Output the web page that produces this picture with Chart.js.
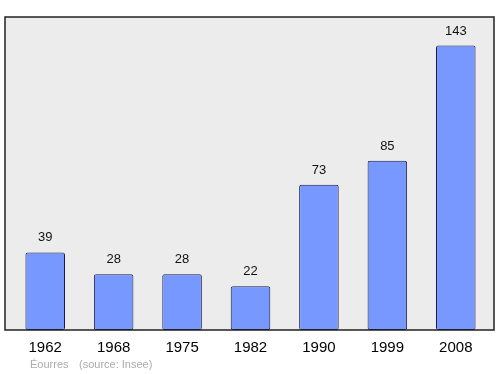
<!DOCTYPE html>
<html>
<head>
<meta charset="utf-8">
<script src="https://cdn.jsdelivr.net/npm/chart.js@4.4.0/dist/chart.umd.min.js"></script>
<style>
  html, body { margin: 0; padding: 0; background: #fff; }
  #wrap { width: 500px; height: 374px; }
</style>
</head>
<body>
<div id="wrap"><canvas id="myChart"></canvas></div>
<script>
let years = ["1962", "1968", "1975", "1982", "1990", "1999", "2008"];
let population = [39, 28, 28, 22, 73, 85, 143];
let placeName = "Éourres";
let sourceText = "(source: Insee)";

// frame sits a little outside the category area
let frameLeft = 6;
let frameRight = 4;

// gray plot background with a dark frame
let frameBox = {
  id: "frameBox",
  beforeDatasetsDraw(chart) {
    let a = chart.chartArea;
    let c = chart.ctx;
    c.save();
    c.fillStyle = "#ececec";
    c.fillRect(a.left - frameLeft, a.top, a.right - a.left + frameLeft + frameRight, a.bottom - a.top);
    c.restore();
  },
  afterDatasetsDraw(chart) {
    let a = chart.chartArea;
    let c = chart.ctx;
    c.save();
    c.strokeStyle = "#222";
    c.lineWidth = 1.5;
    c.strokeRect(a.left - frameLeft, a.top, a.right - a.left + frameLeft + frameRight, a.bottom - a.top);

    // value labels over the bars
    let meta = chart.getDatasetMeta(0);
    c.fillStyle = "#111";
    c.font = "13px 'Liberation Sans', Arial, sans-serif";
    c.textAlign = "center";
    c.textBaseline = "bottom";
    meta.data.forEach((bar, i) => {
      c.fillText(population[i], bar.x, bar.y - 8);
    });

    // footer
    c.fillStyle = "#aaa";
    c.font = "11px 'Liberation Sans', Arial, sans-serif";
    c.textAlign = "left";
    c.textBaseline = "middle";
    c.fillText(placeName, 30, 365);
    c.fillText(sourceText, 79, 365);
    c.restore();
  }
};

let ctx = document.getElementById("myChart").getContext("2d");
let myChart = new Chart(ctx, {
  type: "bar",
  data: {
    labels: years,
    datasets: [
      {
        data: population,
        backgroundColor: "#7799ff",
        borderColor: "#1a1a40",
        borderWidth: 1,
        borderSkipped: false,
        borderRadius: 2,
        barPercentage: 0.578,
        categoryPercentage: 1.0,
      },
    ],
  },
  options: {
    responsive: true,
    maintainAspectRatio: false,
    animation: false,
    layout: { padding: { left: 11, right: 10, top: 17, bottom: 16 } },
    plugins: {
      legend: { display: false },
      tooltip: { enabled: false },
    },
    scales: {
      x: {
        grid: { display: false },
        border: { display: false },
        ticks: {
          color: "#000",
          padding: 1,
          font: { size: 15, family: "'Liberation Sans', Arial, sans-serif" },
        },
      },
      y: {
        display: false,
        min: 0,
        max: 157.3,
      },
    },
  },
  plugins: [frameBox],
});
</script>
</body>
</html>
